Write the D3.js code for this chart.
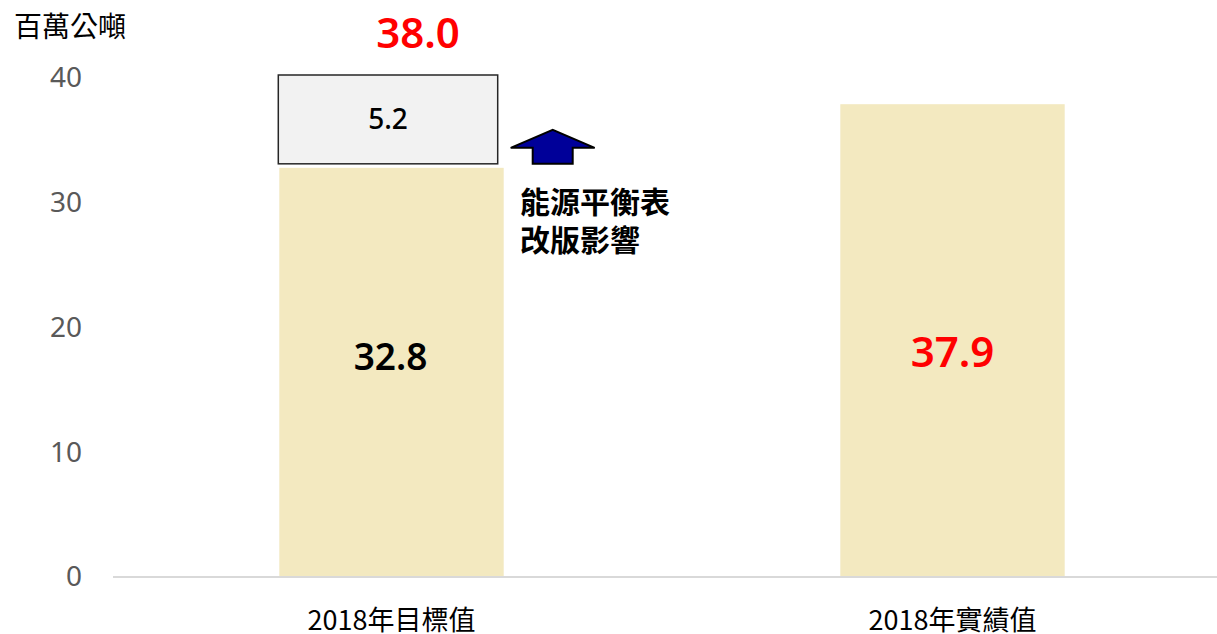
<!DOCTYPE html>
<html>
<head>
<meta charset="utf-8">
<script src="https://d3js.org/d3.v7.min.js"></script>
<style>
  body { margin: 0; background: #fff; }
  text { font-family: "Noto Sans CJK TC", "Noto Sans", sans-serif; }
</style>
</head>
<body>
<svg id="chart" width="1217" height="634"></svg>
<script>
// data
var categories = ["2018年目標值", "2018年實績值"];
var baseValues = [32.8, 37.9];
var revisionValues = [5.2, 0];     // 能源平衡表改版影響
var totalLabels = ["38.0", "37.9"];
var yTicks = [0, 10, 20, 30, 40];
var unitLabel = "百萬公噸";
var noteLines = ["能源平衡表", "改版影響"];

var svg = d3.select("#chart");

var x = d3.scaleBand().domain(categories).range([111, 1233]).paddingInner(0.6).paddingOuter(0.3);
var y = d3.scaleLinear().domain([0, 40]).range([577, 78]);

// y axis labels
var yAxis = d3.axisLeft(y).tickValues(yTicks).tickSize(0).tickPadding(0);
var ya = svg.append("g").attr("transform", "translate(82,0)").call(yAxis);
ya.select(".domain").remove();
ya.selectAll("text").attr("font-size", 28).attr("fill", "#595959")
  .style("font-family", "'Noto Sans', sans-serif");

svg.append("text").attr("x", 14).attr("y", 37).attr("font-size", 28).attr("fill", "#000").text(unitLabel);

// bars
svg.selectAll(".bar").data(categories).enter().append("rect")
  .attr("x", function (d) { return x(d); })
  .attr("width", x.bandwidth())
  .attr("y", function (d, i) { return y(baseValues[i]); })
  .attr("height", function (d, i) { return y(0) - y(baseValues[i]); })
  .attr("fill", "#f3e9c0");

// baseline
svg.append("line").attr("x1", 113).attr("x2", 1217).attr("y1", y(0)).attr("y2", y(0))
  .attr("stroke", "#d9d9d9").attr("stroke-width", 2);

// revision box (callout over first bar)
var c0 = categories[0];
var boxX = x(c0) - 1, boxW = x.bandwidth() - 5;
var boxTop = y(40) - 3, boxBottom = y(baseValues[0]) - 4;
svg.append("rect").attr("x", boxX).attr("y", boxTop).attr("width", boxW).attr("height", boxBottom - boxTop)
  .attr("fill", "#f2f2f2").attr("stroke", "#262626").attr("stroke-width", 1.5);
svg.append("text").attr("x", boxX + boxW / 2).attr("y", (boxTop + boxBottom) / 2 + 10)
  .attr("text-anchor", "middle").attr("font-size", 28).attr("font-weight", 500)
  .style("font-family", "'Noto Sans', sans-serif")
  .text(revisionValues[0].toFixed(1));

// arrow
var ax = x(c0) + x.bandwidth() + 49, ab = boxBottom;
var arrow = [[ax - 20, ab], [ax - 20, ab - 16], [ax - 42, ab - 16], [ax, ab - 34], [ax + 42, ab - 16],
             [ax + 20, ab - 16], [ax + 20, ab]];
svg.append("path").attr("d", d3.line()(arrow) + "Z")
  .attr("fill", "#000099").attr("stroke", "#000").attr("stroke-width", 2);

// note
svg.append("text").attr("x", 520).attr("y", 213).attr("font-size", 30).attr("font-weight", "bold")
  .selectAll("tspan").data(noteLines).enter().append("tspan")
  .attr("x", 520).attr("dy", function (d, i) { return i ? 38 : 0; }).text(function (d) { return d; });

// value labels
svg.append("text").attr("x", x(c0) + x.bandwidth() / 2 - 1).attr("y", 370)
  .attr("text-anchor", "middle").attr("font-size", 37).attr("font-weight", 600)
  .style("font-family", "'Noto Sans', sans-serif")
  .text(baseValues[0].toFixed(1));
svg.append("text").attr("x", 418).attr("y", 48)
  .attr("text-anchor", "middle").attr("font-size", 42).attr("font-weight", 600).attr("fill", "#ff0000")
  .style("font-family", "'Noto Sans', sans-serif").text(totalLabels[0]);
svg.append("text").attr("x", x(categories[1]) + x.bandwidth() / 2).attr("y", 367)
  .attr("text-anchor", "middle").attr("font-size", 42).attr("font-weight", 600).attr("fill", "#ff0000")
  .style("font-family", "'Noto Sans', sans-serif").text(totalLabels[1]);

// category labels
svg.selectAll(".cat").data(categories).enter().append("text")
  .attr("x", function (d) { return x(d) + x.bandwidth() / 2; })
  .attr("y", 630).attr("text-anchor", "middle").attr("font-size", 27).attr("fill", "#000")
  .text(function (d) { return d; });
</script>
</body>
</html>
